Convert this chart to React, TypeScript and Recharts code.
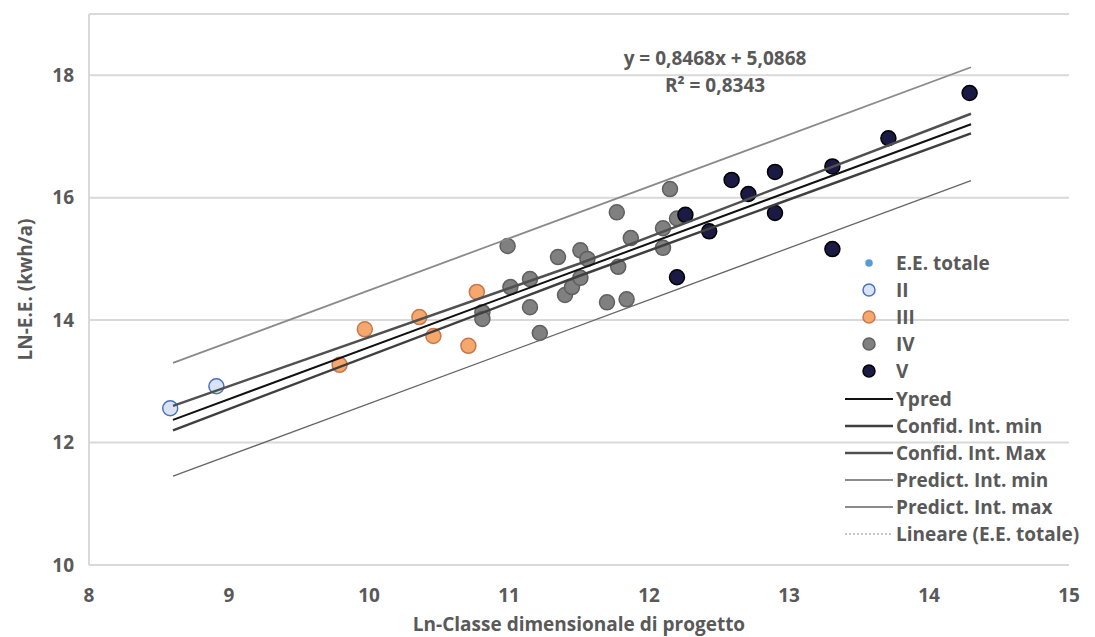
import React from 'react';
import { ComposedChart, Scatter, XAxis, YAxis, CartesianGrid } from 'recharts';

// assi
const xTicks = [8, 9, 10, 11, 12, 13, 14, 15];
const yTicks = [10, 12, 14, 16, 18];

// punti per classe dimensionale
const classeII = [
  { x: 8.58, y: 12.56 },
  { x: 8.91, y: 12.92 },
];
const classeIII = [
  { x: 9.79, y: 13.27 },
  { x: 9.97, y: 13.85 },
  { x: 10.36, y: 14.05 },
  { x: 10.46, y: 13.74 },
  { x: 10.71, y: 13.58 },
  { x: 10.77, y: 14.46 },
];
const classeIV = [
  { x: 10.81, y: 14.13 },
  { x: 10.81, y: 14.02 },
  { x: 10.99, y: 15.21 },
  { x: 11.01, y: 14.54 },
  { x: 11.15, y: 14.67 },
  { x: 11.15, y: 14.21 },
  { x: 11.22, y: 13.79 },
  { x: 11.35, y: 15.03 },
  { x: 11.40, y: 14.41 },
  { x: 11.45, y: 14.54 },
  { x: 11.51, y: 15.14 },
  { x: 11.51, y: 14.69 },
  { x: 11.56, y: 15.0 },
  { x: 11.70, y: 14.29 },
  { x: 11.77, y: 15.76 },
  { x: 11.78, y: 14.87 },
  { x: 11.84, y: 14.34 },
  { x: 11.87, y: 15.34 },
  { x: 12.10, y: 15.5 },
  { x: 12.10, y: 15.18 },
  { x: 12.15, y: 16.14 },
  { x: 12.20, y: 15.66 },
];
const classeV = [
  { x: 12.20, y: 14.7 },
  { x: 12.26, y: 15.72 },
  { x: 12.43, y: 15.45 },
  { x: 12.59, y: 16.29 },
  { x: 12.71, y: 16.06 },
  { x: 12.90, y: 16.42 },
  { x: 12.90, y: 15.75 },
  { x: 13.31, y: 16.51 },
  { x: 13.31, y: 15.16 },
  { x: 13.71, y: 16.97 },
  { x: 14.29, y: 17.71 },
];
const totale = [...classeII, ...classeIII, ...classeIV, ...classeV];

// rette di regressione e intervalli
const ypred = [
  { x: 8.6, y: 12.37 },
  { x: 14.3, y: 17.2 },
];
const confMin = [
  { x: 8.6, y: 12.2 },
  { x: 11.5, y: 14.72 },
  { x: 14.3, y: 17.05 },
];
const confMax = [
  { x: 8.6, y: 12.6 },
  { x: 11.5, y: 14.92 },
  { x: 14.3, y: 17.37 },
];
const predMin = [
  { x: 8.6, y: 11.45 },
  { x: 14.3, y: 16.28 },
];
const predMax = [
  { x: 8.6, y: 13.3 },
  { x: 14.3, y: 18.13 },
];
const lineare = [
  { x: 8.6, y: 12.37 },
  { x: 14.3, y: 17.2 },
];

const grigio = '#595959';
const font = '"Open Sans", sans-serif';
const testo = { fill: grigio, fontSize: 19, fontWeight: 700, fontFamily: font };

const stili: Record<string, { tipo: 'punto' | 'linea'; fill?: string; stroke: string; r?: number; sw?: number; dash?: string }> = {
  'E.E. totale': { tipo: 'punto', fill: '#5b9bd5', stroke: '#5b9bd5', r: 3 },
  II: { tipo: 'punto', fill: '#dae3f3', stroke: '#4a72b8', r: 7.5 },
  III: { tipo: 'punto', fill: '#f4a86e', stroke: '#c8784a', r: 7.5 },
  IV: { tipo: 'punto', fill: '#808080', stroke: '#5f5f5f', r: 7.5 },
  V: { tipo: 'punto', fill: '#1a1a44', stroke: '#000000', r: 7.5 },
  Ypred: { tipo: 'linea', stroke: '#111111', sw: 2 },
  'Confid. Int. min': { tipo: 'linea', stroke: '#3f3f3f', sw: 2.5 },
  'Confid. Int. Max': { tipo: 'linea', stroke: '#505050', sw: 2.5 },
  'Predict. Int. min': { tipo: 'linea', stroke: '#666666', sw: 1.3 },
  'Predict. Int. max': { tipo: 'linea', stroke: '#8a8a8a', sw: 1.8 },
  'Lineare (E.E. totale)': { tipo: 'linea', stroke: '#8c8c8c', sw: 1, dash: '2 2' },
};
const voci = Object.keys(stili);

const puntoShape = (nome: string) => (p: any) => {
  const s = stili[nome];
  return <circle cx={p.cx} cy={p.cy} r={s.r} fill={s.fill} stroke={s.stroke} strokeWidth={1.5} />;
};
const nessuno = () => <g />;

function Legenda() {
  return (
    <div style={{ position: 'absolute', left: 840, top: 249, fontFamily: font, fontSize: 19, fontWeight: 700, color: grigio, whiteSpace: 'nowrap' }}>
      {voci.map((v) => {
        const s = stili[v];
        return (
          <div key={v} style={{ height: 27.2, display: 'flex', alignItems: 'center' }}>
            <svg width={56} height={20} style={{ flexShrink: 0 }}>
              {s.tipo === 'punto' ? (
                <circle cx={29} cy={10} r={s.r === 3 ? 3 : 6} fill={s.fill} stroke={s.stroke} strokeWidth={1.5} />
              ) : (
                <line x1={5} x2={53} y1={10} y2={10} stroke={s.stroke} strokeWidth={s.sw} strokeDasharray={s.dash} />
              )}
            </svg>
            <span>{v}</span>
          </div>
        );
      })}
    </div>
  );
}

export default function App() {
  return (
    <div style={{ position: 'absolute', left: 0, top: 0, width: 1095, height: 637, background: '#fff' }}>
      <ComposedChart width={1095} height={637} margin={{ top: 14, right: 26, left: 39, bottom: 22 }}>
        <CartesianGrid horizontal vertical={false} stroke="#d9d9d9" strokeWidth={2} />
        <XAxis
          type="number"
          dataKey="x"
          domain={[8, 15]}
          ticks={xTicks}
          height={50}
          tickLine={false}
          axisLine={{ stroke: '#d9d9d9', strokeWidth: 2 }}
          tickMargin={18}
          tick={testo}
          label={{ value: 'Ln-Classe dimensionale di progetto', position: 'insideBottom', offset: -16, ...testo }}
        />
        <YAxis
          type="number"
          dataKey="y"
          domain={[10, 19]}
          ticks={yTicks}
          width={50}
          tickLine={false}
          axisLine={{ stroke: '#d9d9d9', strokeWidth: 2 }}
          tickMargin={9}
          tick={testo}
          label={{ value: 'LN-E.E. (kwh/a)', angle: -90, position: 'insideLeft', offset: -14, ...testo, style: { textAnchor: 'middle' } }}
        />
        <Scatter name="E.E. totale" data={totale} dataKey="y" shape={puntoShape('E.E. totale')} isAnimationActive={false} />
        <Scatter name="II" data={classeII} dataKey="y" shape={puntoShape('II')} isAnimationActive={false} />
        <Scatter name="III" data={classeIII} dataKey="y" shape={puntoShape('III')} isAnimationActive={false} />
        <Scatter name="IV" data={classeIV} dataKey="y" shape={puntoShape('IV')} isAnimationActive={false} />
        <Scatter name="V" data={classeV} dataKey="y" shape={puntoShape('V')} isAnimationActive={false} />
        <Scatter name="Lineare (E.E. totale)" data={lineare} dataKey="y" shape={nessuno} line={{ stroke: '#8c8c8c', strokeWidth: 1, strokeDasharray: '2 2' }} isAnimationActive={false} />
        <Scatter name="Predict. Int. min" data={predMin} dataKey="y" shape={nessuno} line={{ stroke: '#666666', strokeWidth: 1.3 }} isAnimationActive={false} />
        <Scatter name="Predict. Int. max" data={predMax} dataKey="y" shape={nessuno} line={{ stroke: '#8a8a8a', strokeWidth: 1.8 }} isAnimationActive={false} />
        <Scatter name="Confid. Int. min" data={confMin} dataKey="y" shape={nessuno} line={{ stroke: '#3f3f3f', strokeWidth: 2.5 }} isAnimationActive={false} />
        <Scatter name="Confid. Int. Max" data={confMax} dataKey="y" shape={nessuno} line={{ stroke: '#505050', strokeWidth: 2.5 }} isAnimationActive={false} />
        <Scatter name="Ypred" data={ypred} dataKey="y" shape={nessuno} line={{ stroke: '#111111', strokeWidth: 2 }} isAnimationActive={false} />
      </ComposedChart>
      <div style={{ position: 'absolute', left: 565, top: 45, width: 300, textAlign: 'center', fontFamily: font, fontSize: 19, fontWeight: 700, color: grigio, lineHeight: '27px' }}>
        <div>y = 0,8468x + 5,0868</div>
        <div>R² = 0,8343</div>
      </div>
      <Legenda />
    </div>
  );
}
